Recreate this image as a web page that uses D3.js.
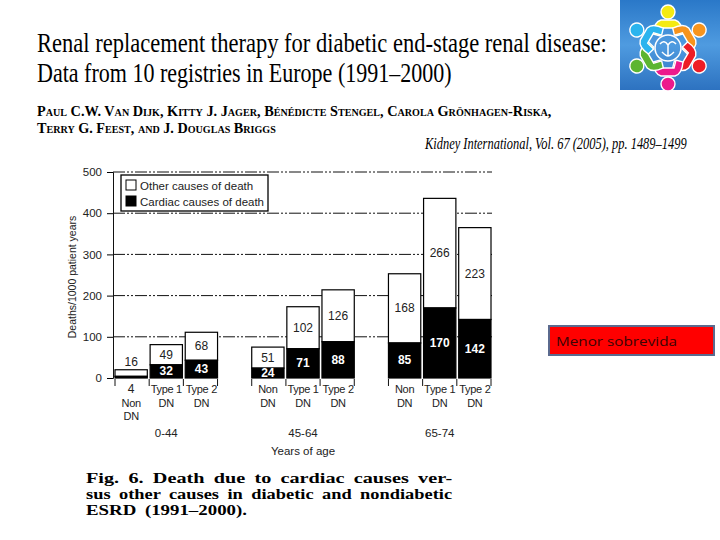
<!doctype html>
<html>
<head>
<meta charset="utf-8">
<title>Renal replacement therapy - Fig. 6</title>
<style>
  body { margin:0; background:#fff; }
  svg { display:block; }
  .serif { font-family:"Liberation Serif","DejaVu Serif",serif; }
  .sans { font-family:"Liberation Sans",Arial,sans-serif; }
  .grid line { stroke:#111; stroke-width:1px; stroke-dasharray:12,2,2,2,2,2; }
  .bar rect { stroke:#000; stroke-width:1.2px; }
</style>
<script src="https://cdn.jsdelivr.net/npm/d3@7"></script>
</head>
<body>
<svg id="slide" width="720" height="540"></svg>
<script>

// data
var groups = ["0-44", "45-64", "65-74"]
var barTypes = ["Non DN", "Type 1 DN", "Type 2 DN"]
var cardiac = [4, 32, 43, 24, 71, 88, 85, 170, 142]
var other = [16, 49, 68, 51, 102, 126, 168, 266, 223]
var yTicks = [0, 100, 200, 300, 400, 500]
var legendLabels = ["Other causes of death", "Cardiac causes of death"]

var rows = []
groups.forEach(function(g, gi) {
  barTypes.forEach(function(t, ti) {
    rows.push({ group:g, type:t, cardiac:cardiac[gi*3+ti], other:other[gi*3+ti] })
  })
})

var svg = d3.select("#slide")
svg.append("rect").attr("width", 720).attr("height", 540).attr("fill", "#fff")

// ---- header text ----
// the scanned page is squeezed sideways, so each line is scaled to its width
function line(txt, x, y, size, len, cls, extra) {
  var t = svg.append("text").attr("class", cls).attr("x", 0).attr("y", 0)
    .attr("font-size", size).text(txt)
  if (extra) extra(t)
  var w = t.node().getComputedTextLength()
  t.attr("transform", "translate(" + x + "," + y + ") scale(" + (len / w) + ",1)")
  return t
}
line("Renal replacement therapy for diabetic end-stage renal disease:", 37, 52, 27, 570, "serif")
line("Data from 10 registries in Europe (1991\u20132000)", 37, 82, 27, 415, "serif")

function caps(t) { t.attr("font-weight", "bold").style("font-variant", "small-caps") }
line("Paul C.W. Van Dijk, Kitty J. Jager, B\u00e9n\u00e9dicte Stengel, Carola Gr\u00f6nhagen-Riska,", 37, 116, 14, 518, "serif", caps)
line("Terry G. Feest, and J. Douglas Briggs", 37, 133, 14, 240, "serif", caps)
line("Kidney International, Vol. 67 (2005), pp. 1489\u20131499", 425, 149, 17, 262, "serif",
  function(t){ t.attr("font-style", "italic") })

// ---- caption ----
function bold(t) { t.attr("font-weight", "bold").attr("word-spacing", 3) }
line("Fig. 6. Death due to cardiac causes ver-", 86, 483, 14.4, 366, "serif", bold)
line("sus other causes in diabetic and nondiabetic", 86, 499, 14.4, 366, "serif", bold)
line("ESRD (1991\u20132000).", 86, 515, 14.4, 161, "serif", bold)

// ---- chart ----
var y = d3.scaleLinear().domain([0, 500]).range([378, 172])
var x0 = d3.scaleBand().domain(groups).range([115, 491]).paddingInner(0.25)
var x1 = d3.scaleBand().domain(barTypes).range([0, x0.bandwidth()]).paddingInner(0.08)

svg.append("g").attr("class", "grid")
  .selectAll("line").data(yTicks.slice(1)).enter()
  .append("line")
  .attr("x1", 113).attr("x2", 492)
  .attr("y1", function(d){ return y(d) }).attr("y2", function(d){ return y(d) })

var yAxis = svg.append("g").attr("class", "sans")
  .attr("transform", "translate(113,0)")
  .call(d3.axisLeft(y).tickValues(yTicks).tickSize(6).tickPadding(5))
yAxis.select(".domain").attr("stroke", "#111")
yAxis.selectAll("text").attr("font-size", 11.5).attr("fill", "#222")
  .attr("font-family", "Liberation Sans, Arial, sans-serif")

svg.append("text").attr("class", "sans")
  .attr("transform", "translate(76,277) rotate(-90)")
  .attr("text-anchor", "middle").attr("font-size", 10.5).attr("fill", "#222")
  .text("Deaths/1000 patient years")

var bars = svg.selectAll("g.bar").data(rows).enter()
  .append("g").attr("class", "bar")
  .attr("transform", function(d){ return "translate(" + (x0(d.group) + x1(d.type)) + ",0)" })

bars.append("rect")
  .attr("y", function(d){ return y(d.cardiac + d.other) })
  .attr("width", x1.bandwidth())
  .attr("height", function(d){ return y(d.cardiac) - y(d.cardiac + d.other) })
  .attr("fill", "#fff")
bars.append("rect")
  .attr("y", function(d){ return y(d.cardiac) })
  .attr("width", x1.bandwidth())
  .attr("height", function(d){ return y(0) - y(d.cardiac) })
  .attr("fill", "#000")

var bw = x1.bandwidth()
var fontLbl = "Liberation Sans, Arial, sans-serif"
function tiny(d) { return (y(0) - y(d.cardiac)) < 8 }

// value labels
bars.append("text")
  .attr("x", bw/2).attr("text-anchor", "middle")
  .attr("font-family", fontLbl).attr("font-size", 12)
  .attr("fill", "#222")
  .attr("y", function(d){
    var top = y(d.cardiac + d.other), bot = y(d.cardiac)
    return (bot - top) < 14 ? top - 4 : (top + bot)/2 + 4
  })
  .text(function(d){ return d.other })

bars.append("text")
  .attr("x", bw/2).attr("text-anchor", "middle")
  .attr("font-family", fontLbl).attr("font-size", 12)
  .attr("font-weight", function(d){ return tiny(d) ? "normal" : "bold" })
  .attr("fill", function(d){ return tiny(d) ? "#222" : "#fff" })
  .attr("y", function(d){
    var h = y(0) - y(d.cardiac)
    return tiny(d) ? 393 : y(0) - h/2 + 4
  })
  .text(function(d){ return d.cardiac })

// category labels under each bar
bars.each(function(d) {
  var shift = tiny(d) ? 1 : 0
  var parts = d.type.split(" ")
  var lines = parts.length === 3 ? [parts[0] + " " + parts[1], parts[2]] : parts
  var g = d3.select(this)
  lines.forEach(function(s, i) {
    g.append("text").attr("x", bw/2).attr("text-anchor", "middle")
      .attr("y", 393 + (i + shift)*13.5)
      .attr("font-family", fontLbl).attr("font-size", 11).attr("fill", "#222")
      .attr("letter-spacing", -0.3)
      .text(s)
  })
})

// x ticks at the bar boundaries
var tickX = []
groups.forEach(function(g) {
  for (var i = 0; i <= 3; i++) tickX.push(x0(g) + i*x0.bandwidth()/3)
})
svg.append("g").selectAll("line").data(tickX).enter()
  .append("line")
  .attr("x1", function(d){ return d }).attr("x2", function(d){ return d })
  .attr("y1", 379).attr("y2", 386)
  .attr("stroke", "#111")

svg.append("g").selectAll("text").data(groups).enter()
  .append("text")
  .attr("x", function(d){ return x0(d) + x0.bandwidth()/2 })
  .attr("y", 437).attr("text-anchor", "middle")
  .attr("font-family", fontLbl).attr("font-size", 11.5).attr("fill", "#222")
  .text(function(d){ return d })

svg.append("text").attr("x", x0("45-64") + x0.bandwidth()/2).attr("y", 455)
  .attr("text-anchor", "middle").attr("font-family", fontLbl)
  .attr("font-size", 11.5).attr("fill", "#222").text("Years of age")

// legend
var leg = svg.append("g").attr("transform", "translate(121,175)")
leg.append("rect").attr("width", 147).attr("height", 36)
  .attr("fill", "#fff").attr("stroke", "#000").attr("stroke-width", 1.3)
leg.selectAll("g").data(legendLabels).enter().append("g")
  .attr("transform", function(d, i){ return "translate(5," + (5 + i*16) + ")" })
  .each(function(d, i) {
    var g = d3.select(this)
    g.append("rect").attr("width", 10).attr("height", 10)
      .attr("fill", i ? "#000" : "#fff").attr("stroke", "#000")
    g.append("text").attr("x", 14).attr("y", 9.5)
      .attr("font-family", fontLbl).attr("font-size", 11.5).attr("fill", "#222")
      .text(d)
  })

// ---- logo (top right) ----
var defs = svg.append("defs")
var grad = defs.append("linearGradient").attr("id", "logoBg")
  .attr("x1", 0).attr("y1", 0).attr("x2", 0).attr("y2", 1)
grad.append("stop").attr("offset", 0).attr("stop-color", "#2a78c8")
grad.append("stop").attr("offset", 0.5).attr("stop-color", "#4f9be0")
grad.append("stop").attr("offset", 1).attr("stop-color", "#2d72c0")
svg.append("rect").attr("x", 620).attr("y", 0).attr("width", 100).attr("height", 90)
  .attr("fill", "url(#logoBg)")

var people = ["#f4ea12", "#f7941d", "#ed1c24", "#ec1a8c", "#5cb531", "#2ab4ee"]
var logo = svg.append("g").attr("transform", "translate(668,48)")
people.forEach(function(c, i) {
  var p = logo.append("g").attr("transform", "rotate(" + (i*60) + ")")
  p.append("path")
    .attr("d", "M-15,-14 Q-14,-26 -7,-28 L7,-28 Q14,-26 15,-14 L8,-12 L6,-20 L-6,-20 L-8,-12 Z")
    .attr("fill", c).attr("stroke", "#fff").attr("stroke-width", 1.4)
  p.append("circle").attr("cx", 0).attr("cy", -36).attr("r", 7)
    .attr("fill", c).attr("stroke", "#fff").attr("stroke-width", 1.4)
})
logo.append("circle").attr("r", 13).attr("fill", "none").attr("stroke", "#fff").attr("stroke-width", 1.5)
logo.append("path").attr("d", "M-8,-4 Q-4,-9 0,-3 Q4,-9 8,-4 M0,-3 L0,8 M-6,4 Q-2,8 0,8 Q2,8 6,4")
  .attr("fill", "none").attr("stroke", "#fff").attr("stroke-width", 1.5)

// ---- red note box ----
svg.append("rect").attr("x", 549).attr("y", 326).attr("width", 165).attr("height", 29)
  .attr("fill", "#ff0000").attr("stroke", "#5b6a8e").attr("stroke-width", 2)
svg.append("text").attr("x", 556).attr("y", 346)
  .attr("font-family", "Open Sans, Liberation Sans, sans-serif").attr("font-size", 13)
  .attr("fill", "#3a0505").attr("textLength", 121).attr("lengthAdjust", "spacingAndGlyphs")
  .text("Menor sobrevida")

</script>
</body>
</html>
